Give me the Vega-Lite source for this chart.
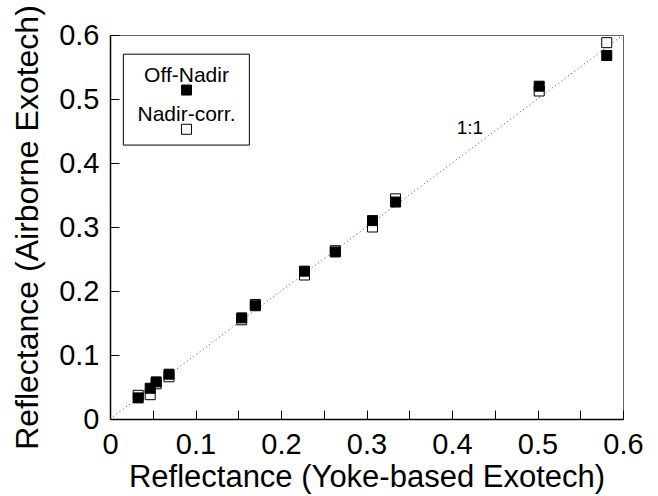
{
  "$schema": "https://vega.github.io/schema/vega-lite/v6.json",
  "width": 513,
  "height": 384,
  "autosize": {"type": "none"},
  "padding": {"left": 110, "top": 35, "right": 35, "bottom": 77},
  "background": "white",
  "datasets": {
    "reflectance": [
      {"yoke": 0.033, "airborne": 0.037, "series": "Nadir-corr."},
      {"yoke": 0.047, "airborne": 0.038, "series": "Nadir-corr."},
      {"yoke": 0.054, "airborne": 0.055, "series": "Nadir-corr."},
      {"yoke": 0.069, "airborne": 0.066, "series": "Nadir-corr."},
      {"yoke": 0.154, "airborne": 0.155, "series": "Nadir-corr."},
      {"yoke": 0.170, "airborne": 0.179, "series": "Nadir-corr."},
      {"yoke": 0.2275, "airborne": 0.225, "series": "Nadir-corr."},
      {"yoke": 0.2635, "airborne": 0.263, "series": "Nadir-corr."},
      {"yoke": 0.307, "airborne": 0.300, "series": "Nadir-corr."},
      {"yoke": 0.334, "airborne": 0.344, "series": "Nadir-corr."},
      {"yoke": 0.502, "airborne": 0.5125, "series": "Nadir-corr."},
      {"yoke": 0.581, "airborne": 0.588, "series": "Nadir-corr."},
      {"yoke": 0.033, "airborne": 0.033, "series": "Off-Nadir"},
      {"yoke": 0.047, "airborne": 0.048, "series": "Off-Nadir"},
      {"yoke": 0.054, "airborne": 0.058, "series": "Off-Nadir"},
      {"yoke": 0.069, "airborne": 0.070, "series": "Off-Nadir"},
      {"yoke": 0.154, "airborne": 0.158, "series": "Off-Nadir"},
      {"yoke": 0.170, "airborne": 0.177, "series": "Off-Nadir"},
      {"yoke": 0.2275, "airborne": 0.231, "series": "Off-Nadir"},
      {"yoke": 0.2635, "airborne": 0.261, "series": "Off-Nadir"},
      {"yoke": 0.307, "airborne": 0.310, "series": "Off-Nadir"},
      {"yoke": 0.334, "airborne": 0.339, "series": "Off-Nadir"},
      {"yoke": 0.502, "airborne": 0.520, "series": "Off-Nadir"},
      {"yoke": 0.581, "airborne": 0.568, "series": "Off-Nadir"}
    ]
  },
  "layer": [
    {
      "description": "1:1 reference line",
      "data": {"values": [{}]},
      "mark": {"type": "rule", "strokeDash": [1, 3], "color": "#444", "strokeWidth": 1},
      "encoding": {
        "x": {"datum": 0, "type": "quantitative"},
        "y": {"datum": 0, "type": "quantitative"},
        "x2": {"datum": 0.6},
        "y2": {"datum": 0.6}
      }
    },
    {
      "data": {"values": [{}]},
      "mark": {"type": "text", "text": "1:1", "font": "Liberation Sans", "fontSize": 19, "color": "black"},
      "encoding": {
        "x": {"datum": 0.421, "type": "quantitative"},
        "y": {"datum": 0.455, "type": "quantitative"}
      }
    },
    {
      "data": {"name": "reflectance"},
      "mark": {"type": "point", "shape": "square", "size": 100, "filled": true, "stroke": "black", "strokeWidth": 1, "opacity": 1},
      "encoding": {
        "x": {
          "field": "yoke",
          "type": "quantitative",
          "title": "Reflectance (Yoke-based Exotech)",
          "scale": {"domain": [0, 0.6], "nice": false, "zero": true},
          "axis": {
            "values": [0, 0.05, 0.1, 0.15, 0.2, 0.25, 0.3, 0.35, 0.4, 0.45, 0.5, 0.55, 0.6],
            "labelExpr": "round(datum.value * 20) % 2 ? '' : (datum.value == 0 ? '0' : format(datum.value, '.1f'))",
            "tickSize": -9,
            "labelPadding": 20,
            "titlePadding": 3,
            "titleFontSize": 31,
            "encode": {"ticks": {"update": {"y2": {"signal": "round(datum.value * 20) % 2 ? -5 : -9"}}}}
          }
        },
        "y": {
          "field": "airborne",
          "type": "quantitative",
          "title": "Reflectance (Airborne Exotech)",
          "scale": {"domain": [0, 0.6], "nice": false, "zero": true},
          "axis": {
            "values": [0, 0.05, 0.1, 0.15, 0.2, 0.25, 0.3, 0.35, 0.4, 0.45, 0.5, 0.55, 0.6],
            "labelExpr": "round(datum.value * 20) % 2 ? '' : (datum.value == 0 ? '0' : format(datum.value, '.1f'))",
            "tickSize": -9,
            "labelPadding": 20,
            "titlePadding": 14,
            "titleFontSize": 32,
            "encode": {"ticks": {"update": {"x2": {"signal": "round(datum.value * 20) % 2 ? 5 : 9"}}}}
          }
        },
        "fill": {
          "field": "series",
          "type": "nominal",
          "scale": {"domain": ["Off-Nadir", "Nadir-corr."], "range": ["black", "white"]},
          "legend": null
        }
      }
    },
    {
      "description": "legend frame",
      "data": {"values": [{}]},
      "mark": {"type": "rect", "fill": "white", "stroke": "black", "strokeWidth": 1},
      "encoding": {
        "x": {"datum": 0.0156, "type": "quantitative"},
        "x2": {"datum": 0.163},
        "y": {"datum": 0.428, "type": "quantitative"},
        "y2": {"datum": 0.570}
      }
    },
    {
      "data": {"values": [{}]},
      "mark": {"type": "text", "text": "Off-Nadir", "font": "Liberation Sans", "fontSize": 21, "color": "black"},
      "encoding": {
        "x": {"datum": 0.0895, "type": "quantitative"},
        "y": {"datum": 0.536, "type": "quantitative"}
      }
    },
    {
      "data": {"values": [{}]},
      "mark": {"type": "point", "shape": "square", "size": 100, "filled": true, "fill": "black", "stroke": "black", "strokeWidth": 1, "opacity": 1},
      "encoding": {
        "x": {"datum": 0.0895, "type": "quantitative"},
        "y": {"datum": 0.514, "type": "quantitative"}
      }
    },
    {
      "data": {"values": [{}]},
      "mark": {"type": "text", "text": "Nadir-corr.", "font": "Liberation Sans", "fontSize": 21, "color": "black"},
      "encoding": {
        "x": {"datum": 0.0895, "type": "quantitative"},
        "y": {"datum": 0.475, "type": "quantitative"}
      }
    },
    {
      "data": {"values": [{}]},
      "mark": {"type": "point", "shape": "square", "size": 100, "filled": true, "fill": "white", "stroke": "black", "strokeWidth": 1, "opacity": 1},
      "encoding": {
        "x": {"datum": 0.0895, "type": "quantitative"},
        "y": {"datum": 0.4527, "type": "quantitative"}
      }
    }
  ],
  "config": {
    "view": {"stroke": "#666", "strokeWidth": 1},
    "axis": {
      "grid": false,
      "domainColor": "black",
      "domainWidth": 1.5,
      "tickColor": "black",
      "tickWidth": 1,
      "labelFont": "Liberation Sans",
      "labelFontSize": 29,
      "labelColor": "black",
      "labelOverlap": false,
      "labelFlush": false,
      "titleFont": "Liberation Sans",
      "titleFontWeight": "normal",
      "titleColor": "black"
    }
  }
}
